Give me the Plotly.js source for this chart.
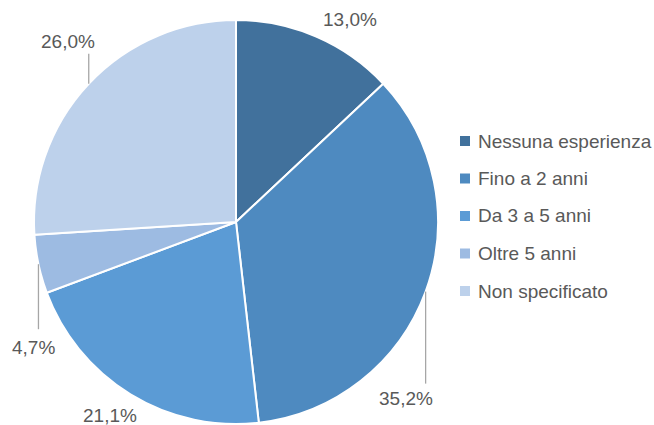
<!DOCTYPE html>
<html>
<head>
<meta charset="utf-8">
<script src="https://cdn.plot.ly/plotly-3.0.1.min.js"></script>
<style>html,body{margin:0;padding:0;background:#fff;}#chart{width:654px;height:425px;}</style>
</head>
<body>
<div id="chart"></div>
<script>
// ---- data ----
const categories = ["Nessuna esperienza", "Fino a 2 anni", "Da 3 a 5 anni", "Oltre 5 anni", "Non specificato"];
const values = [13.0, 35.2, 21.1, 4.7, 26.0];
const colors = ["#41719C", "#4E8AC0", "#5B9BD5", "#9DBBE2", "#BDD1EB"];

// ---- layout / style constants ----
const W = 654, H = 425;
const CX = 236, CY = 222, R = 202;
// label offsets from slice edge midpoint (px), and leader line length (px, 0 = none)
const labelDX = [34, -20, -20, -5, -21];
const labelDY = [-17, 107, 21, 83, -42];
const lineLen = [0, 92, 0, 65, -30];
const textColor = "#595959";
const fontFam = "Liberation Sans, Arial, sans-serif";
const fontSize = 19;

const px = x => x / W;
const py = y => 1 - y / H;

const total = values.reduce((a, b) => a + b, 0);
const annotations = [];
const shapes = [];
let cum = 0;
values.forEach((v, i) => {
  const mid = (cum + v / 2) / total * 2 * Math.PI;
  cum += v;
  const ex = CX + R * Math.sin(mid);
  const ey = CY - R * Math.cos(mid);
  annotations.push({
    x: px(ex + labelDX[i]), y: py(ey + labelDY[i]), xref: "paper", yref: "paper",
    text: v.toFixed(1).replace(".", ",") + "%", showarrow: false,
    xanchor: "center", yanchor: "middle",
    font: {family: fontFam, size: fontSize, color: textColor}
  });
  if (lineLen[i] !== 0) {
    shapes.push({
      type: "line", xref: "paper", yref: "paper",
      x0: px(ex), y0: py(ey), x1: px(ex), y1: py(ey + lineLen[i]),
      line: {color: "#A6A6A6", width: 1.3}
    });
  }
});

// manual legend
const LX = 460, LY0 = 141, LGAP = 37.5, SQ = 10;
categories.forEach((c, i) => {
  const yy = LY0 + i * LGAP;
  shapes.push({
    type: "rect", xref: "paper", yref: "paper",
    x0: px(LX), x1: px(LX + SQ), y0: py(yy - SQ / 2), y1: py(yy + SQ / 2),
    fillcolor: colors[i], line: {width: 0}
  });
  annotations.push({
    x: px(LX + 16), y: py(yy), xref: "paper", yref: "paper",
    text: c, showarrow: false, xanchor: "left", yanchor: "middle",
    font: {family: fontFam, size: fontSize, color: textColor}
  });
});

const trace = {
  type: "pie",
  labels: categories,
  values: values,
  sort: false,
  direction: "clockwise",
  rotation: 0,
  textinfo: "none",
  hoverinfo: "label+percent",
  marker: {colors: colors, line: {color: "#FFFFFF", width: 2}},
  domain: {x: [px(CX - R), px(CX + R)], y: [py(CY + R), py(CY - R)]},
  showlegend: false
};

const layout = {
  width: W, height: H,
  margin: {l: 0, r: 0, t: 0, b: 0},
  paper_bgcolor: "#FFFFFF",
  showlegend: false,
  annotations: annotations,
  shapes: shapes
};

Plotly.newPlot("chart", [trace], layout, {displayModeBar: false, staticPlot: true});
</script>
</body>
</html>
